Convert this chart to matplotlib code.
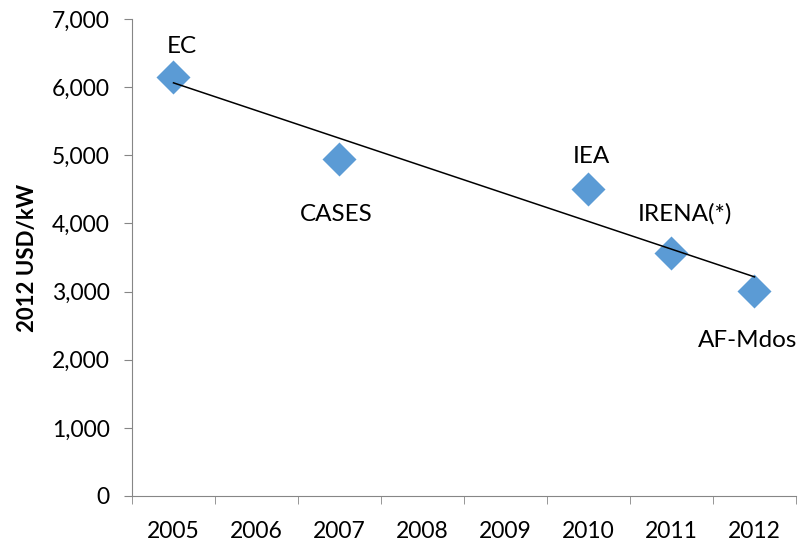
import numpy as np
import matplotlib.pyplot as plt

plt.rcParams['font.family'] = ['Lato', 'DejaVu Sans']

years = [2005, 2006, 2007, 2008, 2009, 2010, 2011, 2012]
src_years = [2005, 2007, 2010, 2011, 2012]
src_costs = [6150, 4950, 4500, 3570, 3010]
src_names = ["EC", "CASES", "IEA", "IRENA(*)", "AF-Mdos"]
# label offsets in points (dx, dy)
label_offsets = [(6, 22), (-2, -40), (2, 24), (10, 28), (-5, -36)]

fig = plt.figure(figsize=(8.04, 5.46), dpi=100)
ax = fig.add_axes([132 / 804, 1 - 496 / 546, 664 / 804, 477 / 546])

xpos = [years.index(y) for y in src_years]

# linear trend fitted on the actual years
k, b = np.polyfit(src_years, src_costs, 1)
tx = [xpos[0], xpos[-1]]
ty = [k * src_years[0] + b, k * src_years[-1] + b]

ax.scatter(xpos, src_costs, marker="D", s=300, color="#5B9BD5", zorder=3, linewidths=0)
ax.plot(tx, ty, color="black", lw=1.1, zorder=4)

for x, y, name, (dx, dy) in zip(xpos, src_costs, src_names, label_offsets):
    ax.annotate(name, (x, y), xytext=(dx, dy), textcoords="offset points",
                ha="center", va="center", fontsize=17.5, annotation_clip=False)

ax.set_xlim(-0.5, 7.5)
ax.set_ylim(0, 7000)
ax.set_xticks(range(len(years)))
ax.set_xticklabels([str(y) for y in years])
ax.set_xticks(np.arange(-0.5, 8, 1), minor=True)
ax.tick_params(axis="x", which="major", length=0, labelsize=16.5, pad=18)
ax.tick_params(axis="x", which="minor", length=6, color="#868686")
ax.set_yticks(range(0, 7001, 1000))
ax.set_yticklabels([f"{v:,}" for v in range(0, 7001, 1000)])
ax.tick_params(axis="y", length=6, color="#868686", labelsize=16.5, pad=10)

for s in ["top", "right"]:
    ax.spines[s].set_visible(False)
for s in ["left", "bottom"]:
    ax.spines[s].set_color("#868686")

ax.set_ylabel("2012 USD/kW", fontsize=16, fontweight="bold", labelpad=10)

fig.savefig("out.png", dpi=100)
